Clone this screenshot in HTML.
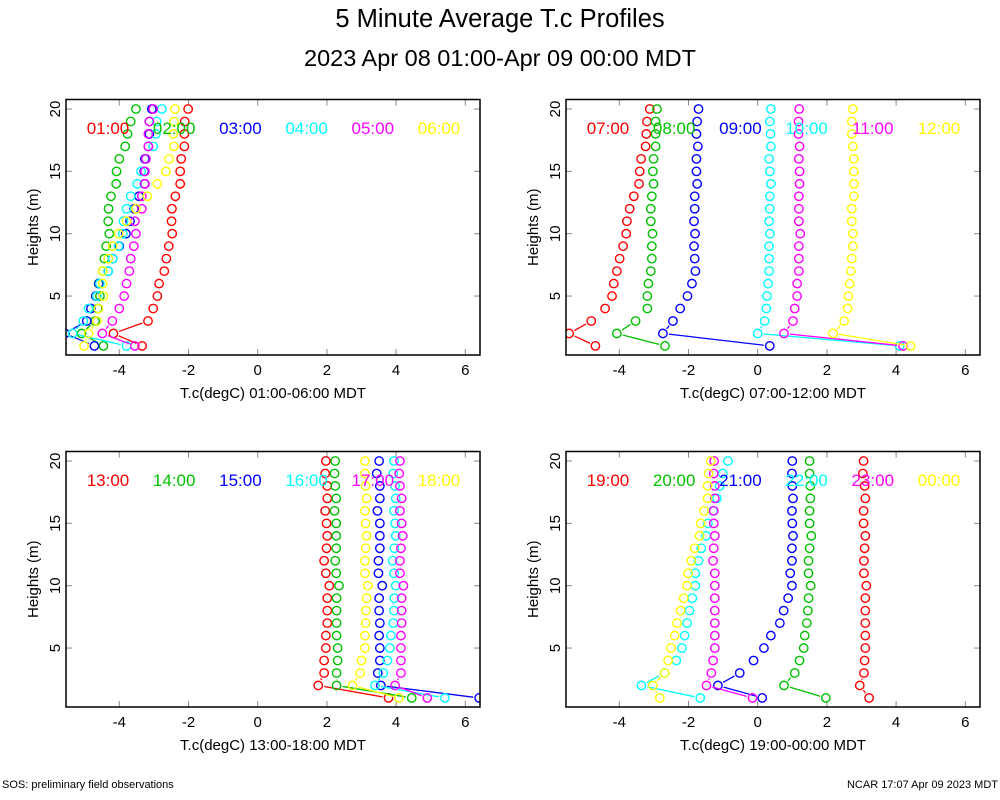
<!DOCTYPE html>
<html><head><meta charset="utf-8"><style>
body{margin:0;background:#fff;}
svg{display:block;font-family:"Liberation Sans",sans-serif;}
</style></head><body>
<svg id="chart" width="1000" height="800" viewBox="0 0 1000 800">
<text x="500" y="27" text-anchor="middle" font-size="25.5">5 Minute Average T.c Profiles</text>
<text x="500" y="66" text-anchor="middle" font-size="23.5">2023 Apr 08 01:00-Apr 09 00:00 MDT</text>
<text x="2" y="788" font-size="11">SOS: preliminary field observations</text>
<text x="998" y="788" font-size="11" text-anchor="end">NCAR 17:07 Apr 09 2023 MDT</text>
</svg>
<script>
const heights=[20,19,18,17,16,15,14,13,12,11,10,9,8,7,6,5,4,3,2,1];
const colors=["#ff0000","#00c000","#0000ff","#00ffff","#ff00ff","#ffff00"];
const xTicks=[-4,-2,0,2,4,6];
const yTicks=[5,10,15,20];
const panelTitles=["T.c(degC) 01:00-06:00 MDT","T.c(degC) 07:00-12:00 MDT","T.c(degC) 13:00-18:00 MDT","T.c(degC) 19:00-00:00 MDT"];
const hourLabels=[["01:00","02:00","03:00","04:00","05:00","06:00"],["07:00","08:00","09:00","10:00","11:00","12:00"],["13:00","14:00","15:00","16:00","17:00","18:00"],["19:00","20:00","21:00","22:00","23:00","00:00"]];
const p1=[
[-2.01,-2.11,-2.12,-2.12,-2.21,-2.24,-2.24,-2.38,-2.48,-2.49,-2.47,-2.57,-2.64,-2.70,-2.85,-2.90,-3.02,-3.17,-4.17,-3.34],
[-3.52,-3.67,-3.76,-3.83,-4.00,-4.08,-4.09,-4.24,-4.31,-4.32,-4.29,-4.38,-4.43,-4.48,-4.60,-4.56,-4.62,-4.70,-5.09,-4.46],
[-3.06,-3.13,-3.13,-3.16,-3.26,-3.28,-3.27,-3.43,-3.57,-3.69,-3.81,-4.00,-4.19,-4.32,-4.59,-4.68,-4.82,-4.94,-5.57,-4.72],
[-2.77,-2.92,-2.94,-3.02,-3.23,-3.37,-3.48,-3.67,-3.79,-3.88,-3.90,-4.02,-4.19,-4.32,-4.56,-4.65,-4.89,-5.04,-5.35,-3.79],
[-3.02,-3.13,-3.16,-3.16,-3.23,-3.26,-3.26,-3.35,-3.35,-3.55,-3.52,-3.58,-3.67,-3.71,-3.79,-3.86,-4.00,-4.20,-4.49,-3.55],
[-2.39,-2.42,-2.44,-2.42,-2.56,-2.65,-2.90,-3.19,-3.52,-3.79,-4.02,-4.19,-4.32,-4.48,-4.48,-4.46,-4.60,-4.65,-4.89,-5.02]];
const p2=[
[-3.12,-3.20,-3.22,-3.24,-3.37,-3.41,-3.43,-3.58,-3.70,-3.78,-3.80,-3.89,-3.99,-4.07,-4.16,-4.21,-4.41,-4.81,-5.45,-4.69],
[-2.91,-2.95,-2.95,-2.95,-3.01,-3.03,-3.01,-3.06,-3.09,-3.09,-3.04,-3.06,-3.06,-3.09,-3.16,-3.19,-3.19,-3.53,-4.07,-2.68],
[-1.71,-1.75,-1.77,-1.73,-1.77,-1.77,-1.75,-1.82,-1.82,-1.84,-1.81,-1.84,-1.82,-1.80,-1.90,-2.03,-2.24,-2.45,-2.74,0.35],
[0.38,0.35,0.37,0.38,0.33,0.35,0.38,0.35,0.35,0.33,0.35,0.33,0.33,0.33,0.30,0.27,0.25,0.20,0.0,4.1],
[1.20,1.18,1.18,1.21,1.19,1.21,1.21,1.19,1.19,1.19,1.23,1.19,1.19,1.19,1.14,1.14,1.07,1.02,0.76,4.2],
[2.75,2.72,2.72,2.75,2.78,2.78,2.78,2.78,2.72,2.72,2.75,2.75,2.72,2.69,2.66,2.62,2.60,2.50,2.18,4.42]];
const p3=[
[1.97,1.95,2.01,2.01,1.95,1.99,2.01,1.99,1.92,1.97,2.07,2.01,2.01,2.01,1.97,1.97,1.92,1.92,1.75,3.78],
[2.24,2.22,2.24,2.27,2.22,2.27,2.27,2.27,2.24,2.27,2.35,2.28,2.28,2.28,2.28,2.31,2.31,2.28,2.28,4.45],
[3.51,3.44,3.53,3.53,3.46,3.53,3.53,3.53,3.49,3.49,3.60,3.51,3.51,3.53,3.51,3.53,3.53,3.47,3.56,6.40],
[3.94,3.92,3.97,3.99,3.94,3.97,3.99,3.95,3.90,3.94,3.99,3.95,3.94,3.92,3.85,3.82,3.75,3.63,3.39,5.41],
[4.11,4.09,4.11,4.16,4.11,4.16,4.19,4.14,4.11,4.11,4.21,4.16,4.16,4.16,4.14,4.14,4.14,4.14,3.97,4.90],
[3.10,3.10,3.12,3.15,3.10,3.12,3.15,3.12,3.10,3.10,3.18,3.15,3.13,3.12,3.10,3.10,3.00,2.96,2.74,4.08]];
const p4=[
[3.06,3.04,3.09,3.11,3.06,3.06,3.11,3.09,3.07,3.07,3.14,3.11,3.11,3.11,3.11,3.11,3.09,3.07,2.95,3.22],
[1.50,1.50,1.52,1.52,1.50,1.50,1.55,1.50,1.47,1.47,1.53,1.47,1.45,1.42,1.36,1.33,1.21,1.07,0.76,1.97],
[1.00,0.99,1.00,1.02,0.99,1.00,1.02,0.99,0.99,0.94,0.99,0.88,0.75,0.64,0.38,0.18,-0.12,-0.52,-1.15,0.13],
[-0.86,-1.01,-1.10,-1.18,-1.29,-1.44,-1.49,-1.63,-1.71,-1.80,-1.80,-1.89,-1.97,-2.04,-2.11,-2.19,-2.35,-2.69,-3.36,-1.66],
[-1.26,-1.27,-1.24,-1.24,-1.27,-1.27,-1.24,-1.27,-1.29,-1.24,-1.24,-1.24,-1.24,-1.24,-1.24,-1.24,-1.29,-1.34,-1.48,-0.15],
[-1.36,-1.42,-1.45,-1.45,-1.55,-1.65,-1.68,-1.82,-1.92,-2.01,-2.04,-2.14,-2.23,-2.33,-2.40,-2.50,-2.59,-2.69,-3.03,-2.83]];
const panelsData=[p1,p2,p3,p4];

const NS="http://www.w3.org/2000/svg";
const svg=document.getElementById('chart');
function mk(tag,attrs,parent){const e=document.createElementNS(NS,tag);for(const k in attrs)e.setAttribute(k,attrs[k]);(parent||svg).appendChild(e);return e;}
const offs=[[0,0],[500,0],[0,352],[500,352]];
offs.forEach((o,pi)=>{
  const dx=o[0],dy=o[1];
  const L=66+dx,R=480+dx,T=99.5+dy,B=355+dy;
  const xS=v=>257.7+dx+v*34.6;
  const yS=h=>109+dy+(20-h)*12.47;
  const g=mk('g',{});
  
  
  const cid='clip'+pi;
  const cp=mk('clipPath',{id:cid},g);mk('rect',{x:L,y:T,width:R-L,height:B-T},cp);
  xTicks.forEach(t=>{
    const x=xS(t);
    mk('line',{x1:x,y1:B,x2:x,y2:B-6,stroke:'#888','stroke-width':1},g);
    mk('line',{x1:x,y1:T,x2:x,y2:T+6,stroke:'#888','stroke-width':1},g);
    const tx=mk('text',{x:x,y:B+20,'text-anchor':'middle','font-size':15},g);tx.textContent=t;
    
    
  });
  yTicks.forEach(t=>{
    const y=yS(t);
    mk('line',{x1:L,y1:y,x2:L+6,y2:y,stroke:'#888','stroke-width':1},g);
    mk('line',{x1:R,y1:y,x2:R-6,y2:y,stroke:'#888','stroke-width':1},g);
    const tx=mk('text',{x:L-6,y:y,'text-anchor':'middle','font-size':15,transform:`rotate(-90 ${L-6} ${y})`},g);tx.textContent=t;
    
    
  });
  const yl=mk('text',{x:38+dx,y:(T+B)/2,'text-anchor':'middle','font-size':15,transform:`rotate(-90 ${38+dx} ${(T+B)/2})`},g);yl.textContent='Heights (m)';
  
  
  const xl=mk('text',{x:(L+R)/2,y:B+43,'text-anchor':'middle','font-size':15},g);xl.textContent=panelTitles[pi];
  
  
  const dg=mk('g',{'clip-path':`url(#${cid})`},g);
  panelsData[pi].forEach((ser,si)=>{
    const col=colors[si];
    const sg=mk('g',{},dg);
    
    
    for(let k=17;k<19;k++){
      const xa=xS(ser[k]),ya=yS(heights[k]),xb=xS(ser[k+1]),yb=yS(heights[k+1]);
      const d=Math.hypot(xb-xa,yb-ya);if(d<12)continue;
      const ux=(xb-xa)/d,uy=(yb-ya)/d,gp=6;
      const ln=mk('line',{x1:xa+ux*gp,y1:ya+uy*gp,x2:xb-ux*gp,y2:yb-uy*gp,stroke:col,'stroke-width':1.3},sg);
      
      
    }
    ser.forEach((v,k)=>{
      const c=mk('circle',{cx:xS(v),cy:yS(heights[k]),r:4.2,fill:'none',stroke:col,'stroke-width':1.4},sg);
      
      
    });
    const lb=mk('text',{x:108+dx+si*66.2,y:134+dy,'text-anchor':'middle','font-size':17,fill:col},g);
    lb.textContent=hourLabels[pi][si];
    
    
  });
  const box=mk('rect',{x:L,y:T,width:R-L,height:B-T,fill:'none',stroke:'#000','stroke-width':1.5},g);
  
  
});
</script>
</body></html>
